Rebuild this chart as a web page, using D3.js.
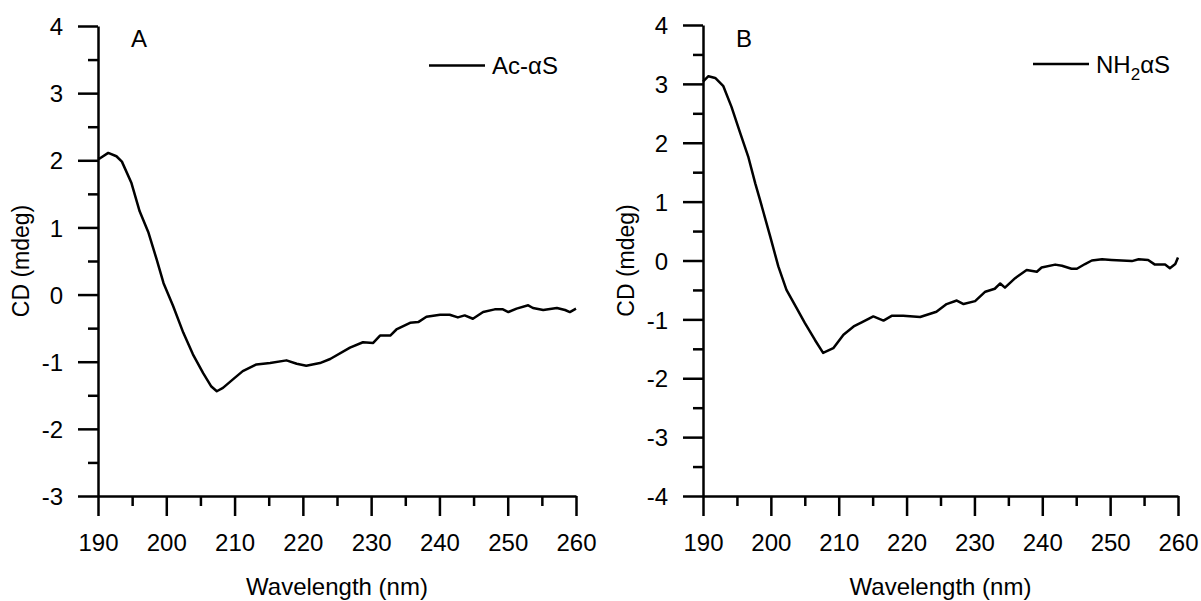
<!DOCTYPE html>
<html>
<head>
<meta charset="utf-8">
<script src="https://cdn.jsdelivr.net/npm/d3@7"></script>
<style>
  body { margin: 0; background: #fff; }
  svg { display: block; font-family: "Liberation Sans", Arial, sans-serif; }
  .axis text { fill: #000; font-size: 24px; }
</style>
</head>
<body>
<script>
// panel A : Ac-aS
const wlA = [190, 190.3, 191.5, 192.7, 193.5, 194.9, 196.1, 197.4, 198.6, 199.6, 201, 202.5, 203.9, 205.4, 206.6, 207.4, 208.3, 209.8, 211.2, 213.2, 215.2, 217.6, 219.1, 220.5, 222.5, 224, 226.9, 228.8, 230.3, 231.3, 232.8, 233.7, 235.7, 236.9, 238.1, 240.1, 241.5, 242.7, 243.7, 244.9, 246.4, 248.1, 249.3, 250.1, 251.3, 253, 253.7, 255.2, 257.2, 258.4, 259.1, 260];
const cdA = [2.02, 2.03, 2.11, 2.06, 1.98, 1.66, 1.24, 0.92, 0.52, 0.17, -0.17, -0.57, -0.89, -1.17, -1.37, -1.44, -1.39, -1.26, -1.14, -1.04, -1.02, -0.98, -1.03, -1.06, -1.02, -0.96, -0.79, -0.71, -0.72, -0.61, -0.61, -0.52, -0.42, -0.41, -0.33, -0.30, -0.30, -0.34, -0.31, -0.36, -0.26, -0.22, -0.22, -0.26, -0.21, -0.16, -0.20, -0.23, -0.20, -0.23, -0.26, -0.21];

// panel B : NH2-aS
const wlB = [190, 190.8, 191.8, 193, 194.2, 195.5, 196.7, 197.7, 198.4, 199.9, 201.1, 202.3, 203.8, 205, 206.5, 207.7, 209.2, 210.7, 212.2, 213.6, 215.1, 216.6, 217.8, 219.5, 222, 224.4, 225.9, 227.4, 228.4, 230.1, 231.6, 233, 233.8, 234.5, 236, 237.7, 239.2, 239.9, 241.9, 242.9, 244.3, 245.1, 246.3, 247.3, 248.8, 250.2, 251.7, 253.2, 254.2, 255.6, 256.6, 258.1, 258.8, 259.6, 260];
const cdB = [3.04, 3.13, 3.10, 2.96, 2.61, 2.16, 1.75, 1.31, 1.03, 0.41, -0.10, -0.50, -0.81, -1.06, -1.35, -1.57, -1.49, -1.26, -1.12, -1.04, -0.95, -1.02, -0.94, -0.94, -0.96, -0.87, -0.74, -0.68, -0.74, -0.69, -0.53, -0.48, -0.39, -0.46, -0.30, -0.16, -0.19, -0.12, -0.07, -0.09, -0.14, -0.14, -0.06, 0.00, 0.02, 0.01, 0.00, -0.01, 0.02, 0.01, -0.07, -0.07, -0.13, -0.06, 0.05];

const xTicks = [190, 200, 210, 220, 230, 240, 250, 260];
const xMinor = [195, 205, 215, 225, 235, 245, 255];
const yTicksA = [-3, -2, -1, 0, 1, 2, 3, 4];
const yTicksB = [-4, -3, -2, -1, 0, 1, 2, 3, 4];

const svg = d3.select("body").append("svg")
  .attr("width", 1201)
  .attr("height", 601);

// plain hyphen for negatives, like the original figure
const fmt = d => String(d);

function styleAxis(sel) {
  sel.selectAll("path, line").attr("stroke", "#000").attr("stroke-width", 2.5);
}

function panel(opt) {
  const x = d3.scaleLinear().domain([190, 260]).range([opt.left, opt.right]);
  const y = d3.scaleLinear().domain(opt.yDomain).range([opt.bottom, opt.top]);
  const g = svg.append("g");

  const yMinor = d3.range(opt.yDomain[0] + 0.5, opt.yDomain[1], 1);

  // minor ticks first
  const xm = g.append("g").attr("class", "axis")
    .attr("transform", `translate(0,${opt.bottom})`)
    .call(d3.axisBottom(x).tickValues(xMinor).tickSize(10).tickSizeOuter(0).tickFormat(""));
  xm.select(".domain").remove();
  styleAxis(xm);
  const ym = g.append("g").attr("class", "axis")
    .attr("transform", `translate(${opt.left},0)`)
    .call(d3.axisLeft(y).tickValues(yMinor).tickSize(10).tickSizeOuter(0).tickFormat(""));
  ym.select(".domain").remove();
  styleAxis(ym);

  const xa = g.append("g").attr("class", "axis")
    .attr("transform", `translate(0,${opt.bottom})`)
    .call(d3.axisBottom(x).tickValues(xTicks).tickSize(20).tickSizeOuter(0).tickFormat(fmt));
  xa.selectAll("text").attr("y", 55).attr("dy", 0);
  styleAxis(xa);

  const ya = g.append("g").attr("class", "axis")
    .attr("transform", `translate(${opt.left},0)`)
    .call(d3.axisLeft(y).tickValues(opt.yTicks).tickSize(20).tickSizeOuter(0).tickFormat(fmt));
  ya.selectAll("text").attr("x", -35).attr("dy", "0.36em");
  styleAxis(ya);

  // data line
  const line = d3.line().x((d, i) => x(opt.wl[i])).y(d => y(d));
  g.append("path")
    .datum(opt.cd)
    .attr("fill", "none")
    .attr("stroke", "#000")
    .attr("stroke-width", 2.5)
    .attr("stroke-linejoin", "round")
    .attr("d", line);

  // axis titles
  g.append("text")
    .attr("x", (opt.left + opt.right) / 2)
    .attr("y", 595)
    .attr("text-anchor", "middle")
    .style("font-size", "24px")
    .text("Wavelength (nm)");
  g.append("text")
    .attr("transform", `translate(${opt.left - 69},${(opt.top + opt.bottom) / 2}) rotate(-90)`)
    .attr("text-anchor", "middle")
    .style("font-size", "23px")
    .text("CD (mdeg)");

  // panel letter
  g.append("text")
    .attr("x", opt.left + 33)
    .attr("y", 46.5)
    .style("font-size", "24px")
    .text(opt.letter);

  // legend
  g.append("line")
    .attr("x1", opt.legX).attr("x2", opt.legX + 56)
    .attr("y1", opt.legY).attr("y2", opt.legY)
    .attr("stroke", "#000").attr("stroke-width", 2.5);
  const lt = g.append("text")
    .attr("x", opt.legX + 63)
    .attr("y", opt.legY + 8.5)
    .style("font-size", "24px");
  opt.legend(lt);
}

panel({
  left: 98, right: 576, top: 26, bottom: 496,
  yDomain: [-3, 4], yTicks: yTicksA,
  wl: wlA, cd: cdA, letter: "A",
  legX: 429, legY: 65.5,
  legend: t => t.text("Ac-αS")
});

panel({
  left: 703, right: 1178, top: 25, bottom: 496,
  yDomain: [-4, 4], yTicks: yTicksB,
  wl: wlB, cd: cdB, letter: "B",
  legX: 1033, legY: 64,
  legend: t => {
    t.append("tspan").text("NH");
    t.append("tspan").attr("dy", 7).style("font-size", "17px").text("2");
    t.append("tspan").attr("dy", -7).text("αS");
  }
});
</script>
</body>
</html>
